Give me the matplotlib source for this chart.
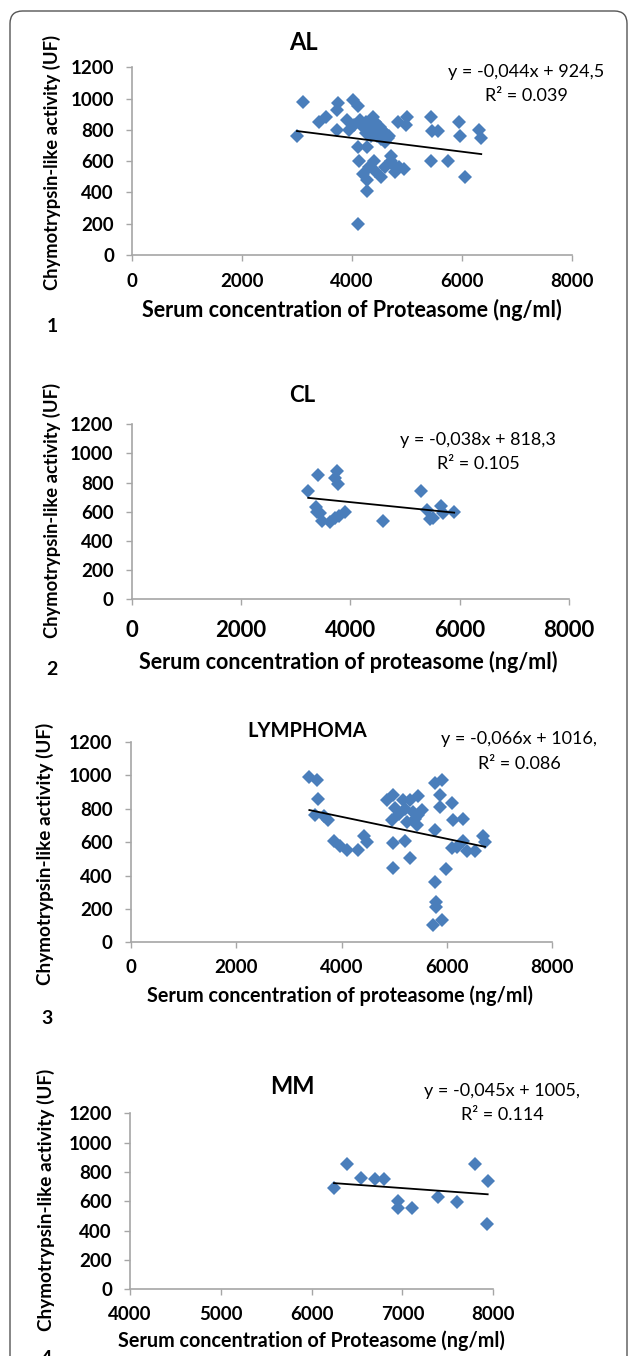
import numpy as np
import matplotlib
matplotlib.use("Agg")
import matplotlib.pyplot as plt
from matplotlib.patches import FancyBboxPatch

plt.rcParams['font.family'] = ['Lato', 'DejaVu Sans']

W, H = 630, 1356

# ---------------- data ----------------
al_x = [3000, 3100, 3400, 3520, 3740, 3730, 3720, 3900, 3950, 4020, 4100, 4150, 4200, 4250,
        4300, 4380, 4420, 4500, 4550, 4600, 4650, 4250, 4350, 4450, 4520, 4600, 4680, 4110,
        4280, 4130, 4300, 4280, 4280, 4110, 4400, 4420, 4530, 4600, 4700, 4720, 4780, 4850,
        4950, 4830, 5000, 4990, 5430, 5450, 5560, 5950, 5960, 6300, 6350, 5430, 5750, 6050,
        4700, 4200, 4030, 4380]
al_y = [760, 975, 850, 880, 970, 930, 800, 860, 800, 990, 950, 860, 820, 850,
        800, 880, 850, 820, 800, 780, 750, 780, 760, 760, 740, 720, 760, 690,
        690, 600, 560, 480, 410, 200, 600, 540, 500, 560, 630, 580, 530, 560,
        550, 850, 880, 830, 880, 790, 790, 850, 760, 800, 750, 600, 600, 500,
        600, 520, 830, 820]

cl_x = [3230, 3400, 3380, 3390, 3490, 3630, 3720, 3760, 3720, 3780, 3900, 4590, 5290, 5400,
        5460, 5520, 5650, 5700, 5900, 3450, 3800]
cl_y = [743, 850, 635, 601, 540, 530, 555, 882, 830, 790, 601, 539, 743, 613,
        550, 560, 640, 590, 601, 590, 570]

ly_x = [3390, 3530, 3560, 3500, 3670, 3750, 3850, 3970, 4100, 4320, 4420, 4480, 4860, 4980,
        5015, 4950, 4983, 4983, 5170, 5205, 5100, 5300, 5300, 5350, 5450, 5430, 5400, 5460,
        5520, 5774, 5774, 5793, 5800, 5730, 5900, 5983, 5774, 5900, 5869, 5869, 6090, 6109,
        6312, 6090, 6200, 6312, 6375, 6533, 6691, 6723, 5200, 5250]
ly_y = [990, 970, 858, 764, 754, 734, 604, 574, 550, 550, 634, 598, 854, 884,
        804, 734, 594, 444, 854, 604, 770, 504, 854, 780, 760, 700, 740, 878,
        790, 674, 364, 244, 214, 104, 134, 438, 954, 974, 884, 810, 834, 734,
        738, 564, 570, 604, 544, 544, 634, 598, 800, 720]

mm_x = [6246, 6385, 6539, 6697, 6796, 6954, 6954, 7101, 7394, 7596, 7798, 7938, 7927]
mm_y = [689, 855, 761, 750, 750, 605, 552, 557, 632, 598, 855, 739, 445]

titles = ["AL", "CL", "LYMPHOMA", "MM"]
slopes = [-0.044, -0.038, -0.066, -0.045]
intercepts = [924.5, 818.3, 1016, 1005]
eq_line1 = ["y = -0,044x + 924,5", "y = -0,038x + 818,3", "y = -0,066x + 1016,", "y = -0,045x + 1005,"]
eq_line2 = ["R² = 0.039", "R² = 0.105", "R² = 0.086", "R² = 0.114"]
xlabels = ["Serum concentration of Proteasome (ng/ml)",
           "Serum concentration of proteasome (ng/ml)",
           "Serum concentration of proteasome (ng/ml)",
           "Serum concentration of Proteasome (ng/ml)"]
ylabel = "Chymotrypsin-like activity (UF)"
panel_nums = ["1", "2", "3", "4"]
y_ticks = [0, 200, 400, 600, 800, 1000, 1200]
x_ticks = [[0, 2000, 4000, 6000, 8000]] * 3 + [[4000, 5000, 6000, 7000, 8000]]

xs = [al_x, cl_x, ly_x, mm_x]
ys = [al_y, cl_y, ly_y, mm_y]

# ---------------- layout (pixels) ----------------
axes_px = [(132, 67.3, 572, 255), (131.7, 424.3, 569, 599.3),
           (130.7, 742, 552.3, 942.3), (130, 1113.3, 493.3, 1289.3)]
title_pos = [(303, 43, 17), (302, 396, 16), (307, 731, 14.5), (292, 1087, 17)]
eq_pos = [(526, 72, 96), (478, 440, 464), (519, 739, 764), (502, 1091, 1115)]
xlab_pos = [(352, 310), (348, 662), (340, 996), (311, 1341)]
ylab_pos = [(52, 162), (52, 511), (45, 854), (46, 1200)]
num_pos = [(52, 327), (52, 670), (47, 1018), (47, 1358)]
xtick_fs = [13.5, 16, 13.5, 13.5]
ytick_fs = 13.5
xtick_pad = [9, 11, 8, 8]
ylab_fs = [13.2, 13.2, 13.6, 13.6]
xlab_fs = [15.5, 15.5, 14.2, 14.2]

fig = plt.figure(figsize=(W / 100, H / 100), dpi=100)

def T(x, y, s, **kw):
    kw.setdefault('ha', 'center')
    kw.setdefault('va', 'center')
    fig.text(x / W, 1 - y / H, s, **kw)

# border
border = FancyBboxPatch((10 / W, -0.05), 617 / W, (1356 - 11) / H + 0.05,
                        boxstyle="round,pad=0,rounding_size=0.02",
                        transform=fig.transFigure, fill=False,
                        edgecolor='#555555', linewidth=1.0, mutation_aspect=W / H)
fig.patches.append(border)

spine_c = '#A6A6A6'
blue = '#4A7EBB'

for i in range(4):
    l, t, r, b = axes_px[i]
    ax = fig.add_axes([l / W, 1 - b / H, (r - l) / W, (b - t) / H])
    ax.set_facecolor('none')
    ax.plot(xs[i], ys[i], linestyle='none', marker='D', markersize=7.3,
            color=blue, markeredgewidth=0, clip_on=False, zorder=3)
    lx = np.array([min(xs[i]), max(xs[i])])
    ax.plot(lx, slopes[i] * lx + intercepts[i], color='black', lw=1.3, zorder=4)
    ax.set_xlim(x_ticks[i][0], x_ticks[i][-1])
    ax.set_ylim(0, 1200)
    for s in ['top', 'right']:
        ax.spines[s].set_visible(False)
    for s in ['left', 'bottom']:
        ax.spines[s].set_color(spine_c)
        ax.spines[s].set_linewidth(1.2)
    ax.set_xticks(x_ticks[i])
    ax.set_xticklabels([str(v) for v in x_ticks[i]], fontweight='bold', fontsize=xtick_fs[i])
    ax.set_yticks(y_ticks)
    ax.set_yticklabels([str(v) for v in y_ticks], fontweight='bold', fontsize=ytick_fs)
    ax.tick_params(axis='both', direction='out', length=4, width=1, color=spine_c)
    ax.tick_params(axis='x', pad=xtick_pad[i])
    ax.tick_params(axis='y', pad=9)

    T(title_pos[i][0], title_pos[i][1], titles[i], fontsize=title_pos[i][2], fontweight='bold')
    T(eq_pos[i][0], eq_pos[i][1], eq_line1[i], fontsize=13)
    T(eq_pos[i][0], eq_pos[i][2], eq_line2[i], fontsize=13)
    T(xlab_pos[i][0], xlab_pos[i][1], xlabels[i], fontsize=xlab_fs[i], fontweight='bold')
    T(ylab_pos[i][0], ylab_pos[i][1], ylabel, fontsize=ylab_fs[i], fontweight='bold', rotation=90)
    T(num_pos[i][0], num_pos[i][1], panel_nums[i], fontsize=14, fontweight='bold')

fig.savefig("out.png", dpi=100)
